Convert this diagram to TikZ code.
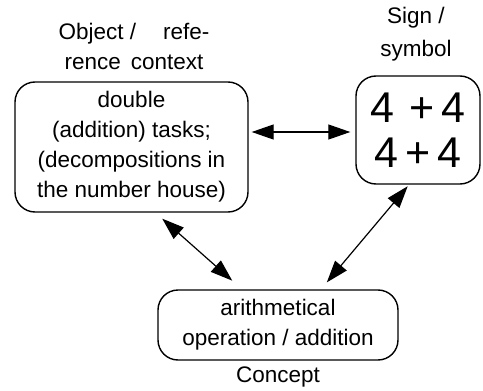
\documentclass[tikz,border=0pt]{standalone}
\usepackage{fontspec}
\setmainfont{Liberation Sans}
\usetikzlibrary{arrows.meta,positioning}

\begin{document}
\begin{tikzpicture}[
    x=1pt, y=-1pt,
    every node/.style={font=\fontsize{22.5}{30}\selectfont, inner sep=0pt},
    box/.style={rectangle, draw, line width=1.4pt, rounded corners=20pt, align=center},
    caption/.style={align=center},
    arrow/.style={line width=1.2pt, {Triangle[length=22pt,width=15pt]}-{Triangle[length=22pt,width=15pt]}}
  ]
    \useasboundingbox (0,0) rectangle (483,391);
    % Nodes
    \node[box, minimum width=233pt, minimum height=130pt] (object) at (131.5,147) {double\\(addition) tasks;\\(decompositions in\\the number house)};
    \node[box, minimum width=124pt, minimum height=108pt, font=\fontsize{43}{45}\selectfont] (sign) at (418,130) {4\,\,+\,4\\4\,+\,4};
    \node[box, minimum width=240pt, minimum height=70pt] (concept) at (278,325) {arithmetical\\operation / addition};

    % Captions
    \node[caption] (objectlbl) at (134,46) {\makebox[151pt]{Object /\hfill refe-}\\rence\, context};
    \node[caption, font=\fontsize{22.5}{33}\selectfont] (signlbl) at (416,34) {Sign /\\symbol};
    \node[caption] (conceptlbl) at (278,377) {Concept};

    % Arrows
    \draw[arrow, shorten <=3pt, shorten >=5pt] (object.east |- 0,132) -- (sign.west |- 0,132);
    \draw[arrow, shorten <=9pt, shorten >=13pt] ([xshift=24pt]object.south) -- ([xshift=-36pt]concept.north);
    \draw[arrow, shorten <=2pt, shorten >=9pt] ([xshift=-9pt]sign.south) -- ([xshift=43pt]concept.north);
\end{tikzpicture}
\end{document}
